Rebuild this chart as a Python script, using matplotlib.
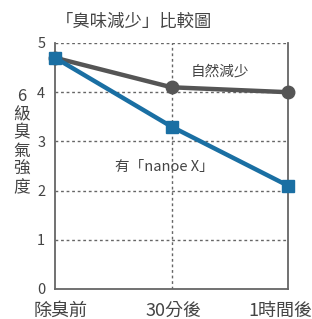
import matplotlib
matplotlib.use("Agg")
import matplotlib.pyplot as plt
from matplotlib.transforms import ScaledTranslation

plt.rcParams['font.family'] = ['Noto Sans CJK TC', 'DejaVu Sans']

stages = ["除臭前", "30分後", "1時間後"]
natural = [4.7, 4.1, 4.0]
nanoe = [4.7, 3.3, 2.1]
y_ticks = [0, 1, 2, 3, 4, 5]

text_color = "#444444"
gray = "#555555"
blue = "#1a6fa3"

fig = plt.figure(figsize=(3.12, 3.19), dpi=100)
ax = fig.add_axes([55 / 312, 1 - 289 / 319, 233 / 312, 246 / 319])

x = list(range(len(stages)))
ax.plot(x, natural, color=gray, lw=3.2, marker="o", ms=9, zorder=3, clip_on=False)
ax.plot(x, nanoe, color=blue, lw=3.2, marker="s", ms=9, zorder=4, clip_on=False)

ax.set_xlim(0, 2)
ax.set_ylim(0, 5)
ax.set_yticks(y_ticks)
ax.set_xticks(x)
ax.set_xticklabels(stages, fontsize=13, color=text_color)
ax.tick_params(axis="both", length=0, labelcolor=text_color)
ax.tick_params(axis="y", labelsize=10.5, pad=7)
ax.tick_params(axis="x", pad=9)

# nudge the x labels like the original
shifts = [6, 2, -8]
for lab, dx in zip(ax.get_xticklabels(), shifts):
    lab.set_transform(lab.get_transform() + ScaledTranslation(dx / 100, 0, fig.dpi_scale_trans))

for v in y_ticks[1:]:
    ax.axhline(v, color="#666666", lw=1, ls=(0, (2, 2)), zorder=1)
ax.axvline(1, color="#666666", lw=1, ls=(0, (2, 2)), zorder=1)

for side in ["left", "right", "bottom"]:
    ax.spines[side].set_color("#666666")
    ax.spines[side].set_linewidth(1.3)
ax.spines["top"].set_visible(False)

ax.text(1.416, 4.41, "自然減少", fontsize=10.5, color=text_color, ha="center", va="center")
ax.text(0.936, 2.48, "有「nanoe X」", fontsize=10.5, color=text_color, ha="center", va="center")

fig.text(134 / 312, 1 - 22 / 319, "「臭味減少」比較圖", fontsize=12.5,
         color=text_color, ha="center", va="center")
fig.text(22 / 312, 1 - 142 / 319, "6\n級\n臭\n氣\n強\n度", fontsize=12,
         color=text_color, ha="center", va="center", linespacing=1.1)

fig.savefig("out.png", dpi=100)
